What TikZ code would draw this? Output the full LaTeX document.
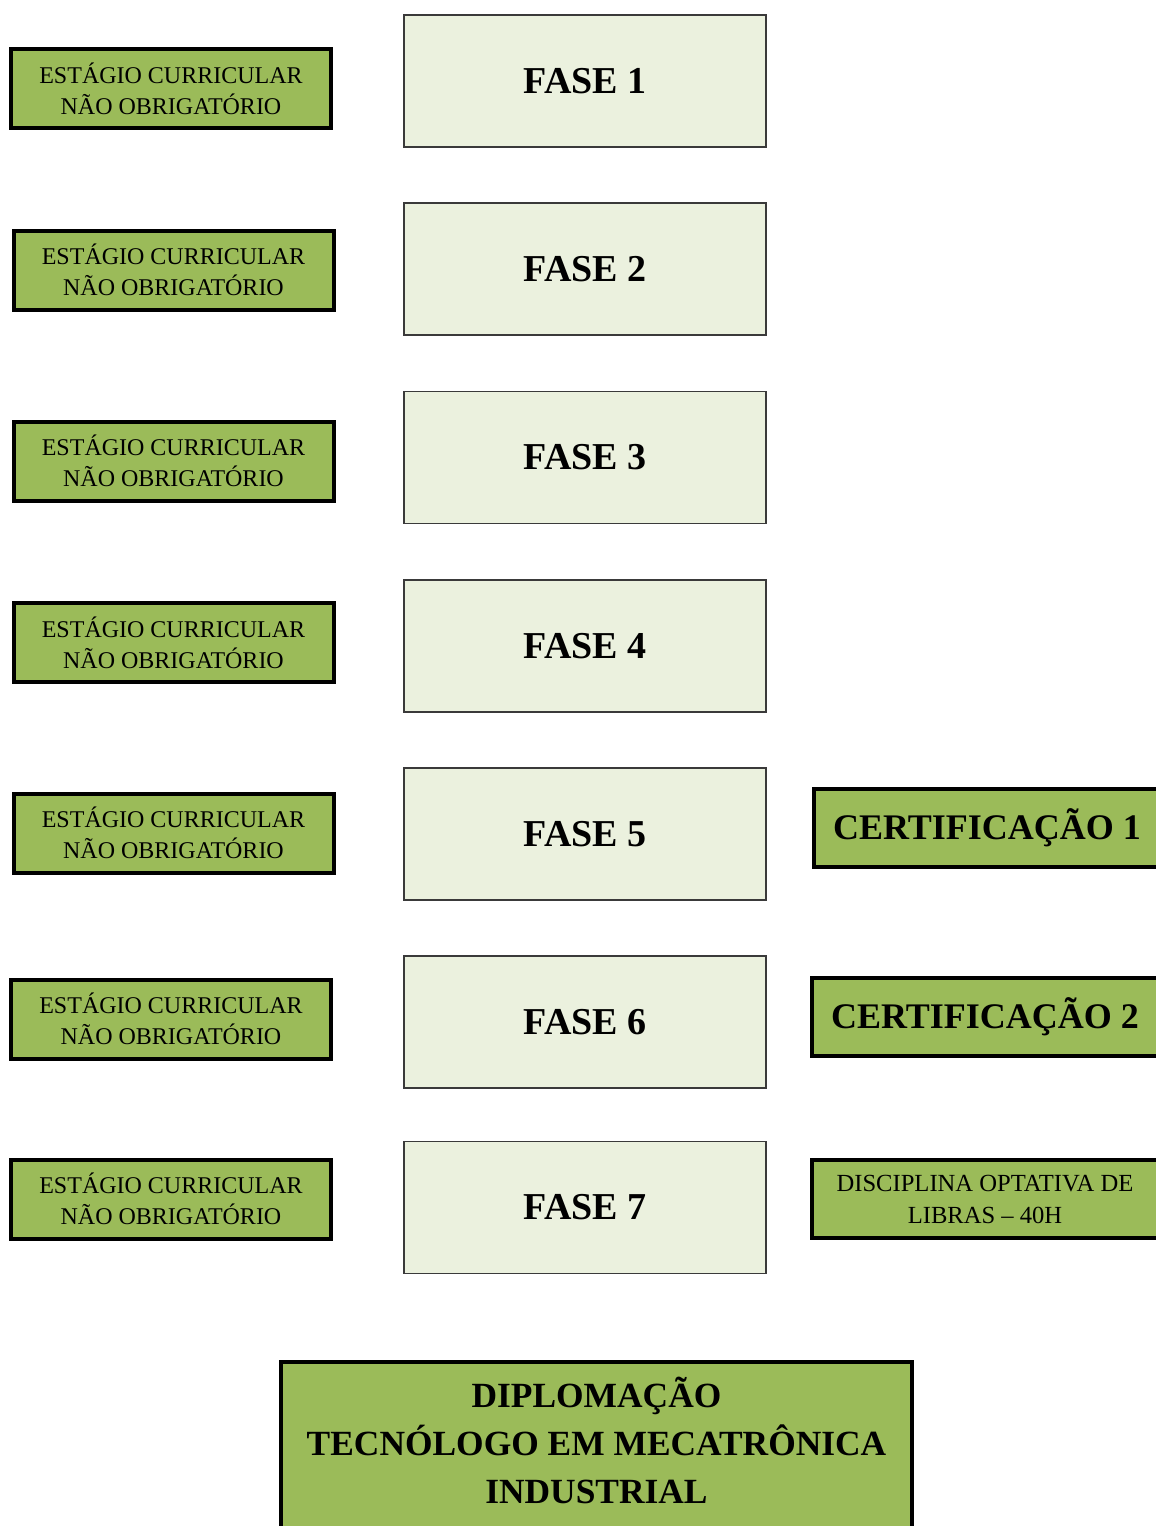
\documentclass[tikz,border=0pt]{standalone}
\usepackage{fontspec}
\setmainfont{Liberation Serif}
\usepackage{xcolor}
\definecolor{fase-green}{HTML}{9BBB59}
\definecolor{fase-light}{HTML}{EBF1DE}
\definecolor{fase-edge}{HTML}{3A3A3A}
\usepackage{tikz}

\tikzset{
    estagio/.style={draw=black, line width=2pt, fill=fase-green, inner sep=0pt,
        minimum width=160pt, minimum height=39.5pt, align=center,
        font=\fontsize{12}{15.5}\selectfont},
    fase/.style={draw=fase-edge, line width=0.75pt, fill=fase-light, inner sep=0pt,
        minimum width=181pt, minimum height=66pt,
        font=\fontsize{19}{22}\selectfont\bfseries},
    certif/.style={draw=black, line width=2pt, fill=fase-green, inner sep=0pt,
        minimum width=173pt, minimum height=39pt, align=center,
        font=\fontsize{18}{22}\selectfont\bfseries},
    optativa/.style={draw=black, line width=2pt, fill=fase-green, inner sep=0pt,
        minimum width=173pt, minimum height=39pt, align=center,
        font=\fontsize{12.3}{16}\selectfont},
    diploma/.style={draw=black, line width=2pt, fill=fase-green, inner sep=0pt,
        minimum width=315.5pt, minimum height=88pt, align=center, text depth=10pt,
        font=\fontsize{17.7}{24}\selectfont\bfseries}
}

\begin{document}
\begin{tikzpicture}[x=0.5pt, y=-0.5pt]

    % Page
    \useasboundingbox (0, 0) rectangle (1156, 1526);
    \clip (0, 0) rectangle (1156, 1526);

    % Estagio
    \node[estagio] (est1) at (171, 88.5) {ESTÁGIO CURRICULAR\\NÃO OBRIGATÓRIO};
    \node[estagio] (est2) at (173.5, 270) {ESTÁGIO CURRICULAR\\NÃO OBRIGATÓRIO};
    \node[estagio] (est3) at (173.5, 461) {ESTÁGIO CURRICULAR\\NÃO OBRIGATÓRIO};
    \node[estagio] (est4) at (173.5, 642.5) {ESTÁGIO CURRICULAR\\NÃO OBRIGATÓRIO};
    \node[estagio] (est5) at (173.5, 833) {ESTÁGIO CURRICULAR\\NÃO OBRIGATÓRIO};
    \node[estagio] (est6) at (171, 1019) {ESTÁGIO CURRICULAR\\NÃO OBRIGATÓRIO};
    \node[estagio] (est7) at (171, 1199) {ESTÁGIO CURRICULAR\\NÃO OBRIGATÓRIO};

    % Fases
    \node[fase] (fase1) at (585, 81) {FASE 1};
    \node[fase] (fase2) at (585, 269) {FASE 2};
    \node[fase] (fase3) at (585, 457.5) {FASE 3};
    \node[fase] (fase4) at (585, 646) {FASE 4};
    \node[fase] (fase5) at (585, 834) {FASE 5};
    \node[fase] (fase6) at (585, 1022) {FASE 6};
    \node[fase] (fase7) at (585, 1207.5) {FASE 7};

    % Certificacoes
    \node[certif] (cert1) at (987, 828) {CERTIFICAÇÃO 1};
    \node[certif] (cert2) at (985, 1016.5) {CERTIFICAÇÃO 2};
    \node[optativa] (libras) at (985, 1199) {DISCIPLINA OPTATIVA DE\\LIBRAS – 40H};

    % Diplomacao
    \node[diploma] (diploma) at (596.5, 1450) {DIPLOMAÇÃO\\TECNÓLOGO EM MECATRÔNICA\\INDUSTRIAL};

\end{tikzpicture}
\end{document}
